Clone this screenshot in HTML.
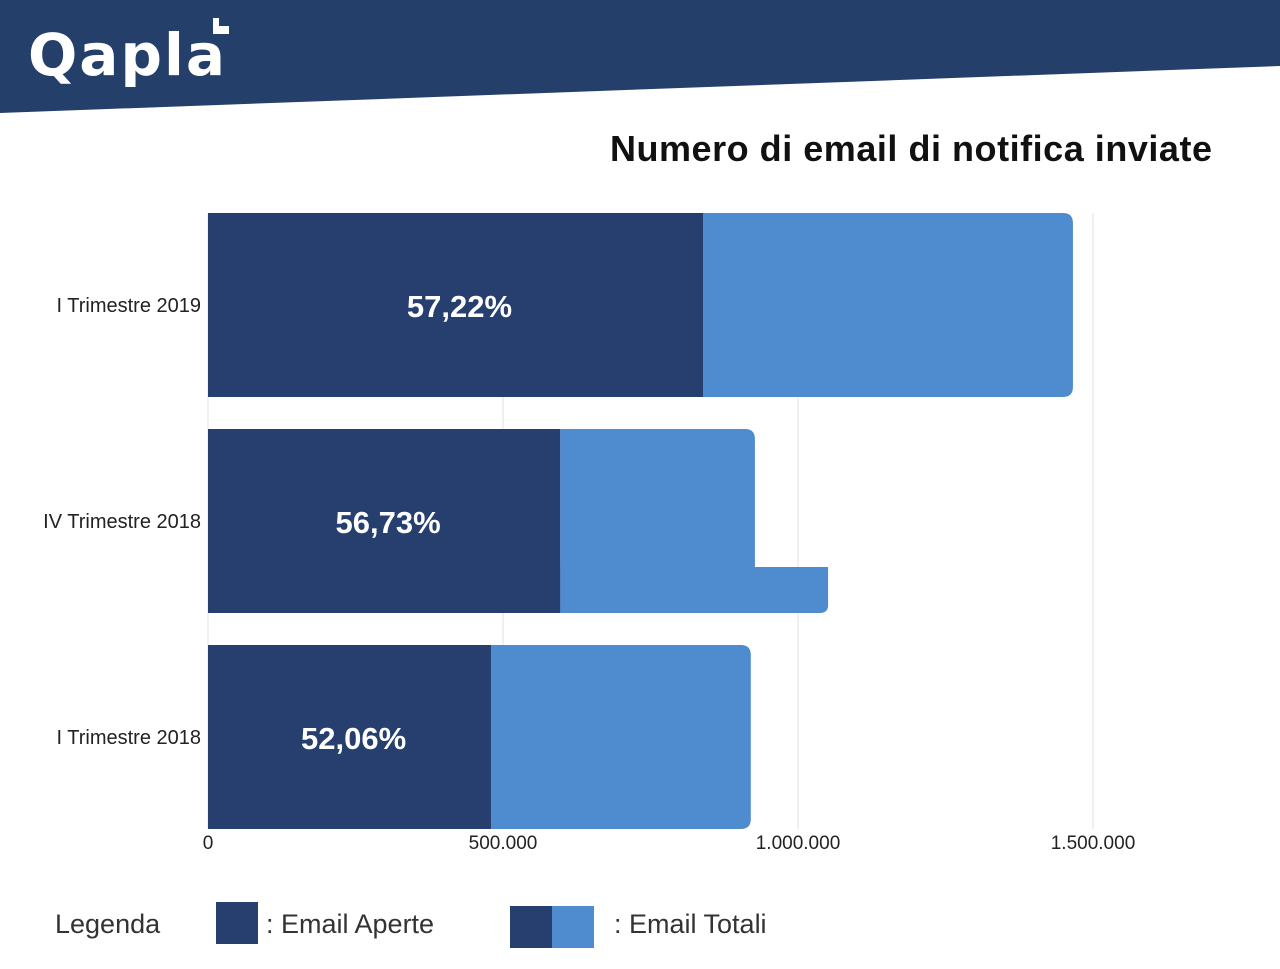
<!DOCTYPE html>
<html><head><meta charset="utf-8"><style>
body{margin:0;width:1280px;height:969px;background:#fff;overflow:hidden;font-family:"Liberation Sans",sans-serif}
svg{display:block}
</style></head><body>
<svg width="1280" height="969">
<polygon points="0,0 1280,0 1280,66 0,113" fill="#253f6b"/>
<text x="28" y="75" fill="#fff" font-size="58" font-weight="bold" font-family="DejaVu Sans, sans-serif" letter-spacing="2">Qapla</text>
<path d="M213,18 h6 v8 h10 v8 h-16z" fill="#fff"/>
<text x="1212" y="161" text-anchor="end" font-size="36" font-weight="bold" fill="#111" textLength="602" lengthAdjust="spacing">Numero di email di notifica inviate</text>
<g id="grid"></g><g id="bars"></g><g id="labels"></g>
<text x="55" y="933" font-size="27" fill="#333">Legenda</text>
<rect x="216" y="902" width="42" height="42" fill="#263f6e"/>
<text x="266" y="933" font-size="27" fill="#333">: Email Aperte</text>
<rect x="510" y="906" width="42" height="42" fill="#263f6e"/>
<rect x="552" y="906" width="42" height="42" fill="#4f8bcf"/>
<text x="614" y="933" font-size="27" fill="#333">: Email Totali</text>
</svg>
<script>
const categories=["I Trimestre 2019","IV Trimestre 2018","I Trimestre 2018"];
const opened=[839000,597000,480000];
const totals=[1466000,927000,920000];
const extension=[0,1051000,0];
const percentLabels=["57,22%","56,73%","52,06%"];
const ticks=[0,500000,1000000,1500000];
const tickLabels=["0","500.000","1.000.000","1.500.000"];
const NS="http://www.w3.org/2000/svg";
const x=v=>208+v*295/500000;
const rowTop=i=>213+i*216, rowH=184;
function mk(t,a,p){const e=document.createElementNS(NS,t);for(const k in a)e.setAttribute(k,a[k]);document.getElementById(p).appendChild(e);return e;}
ticks.forEach((t,i)=>{
 const l=mk('line',{x1:x(t),x2:x(t),y1:213,y2:829,stroke:'#e0e0e0','stroke-width':1},'grid');
 
 
 const tx=mk('text',{x:x(t),y:849,'text-anchor':'middle','font-size':19,fill:'#222'},'labels');
 tx.textContent=tickLabels[i];
 
 
});
categories.forEach((c,i)=>{
 const y=rowTop(i), x0=x(0), xd=x(opened[i]), xt=x(totals[i]);
 const r=10;
 if(extension[i]>0){
  const xe=x(extension[i]), ey=y+138, eh=rowH-138;
  const ex=mk('path',{d:`M${xd},${ey} H${xe} V${y+rowH-8} Q${xe},${y+rowH} ${xe-8},${y+rowH} H${xd}Z`,fill:'#4f8bcf'},'bars');
  
  
 }
 const lt=mk('path',{d:`M${xd},${y} H${xt-r} Q${xt},${y} ${xt},${y+r} V${y+rowH-r} Q${xt},${y+rowH} ${xt-r},${y+rowH} H${xd}Z`,fill:'#4f8bcf'},'bars');
 
 
 const dk=mk('rect',{x:x0,y:y,width:xd-x0,height:rowH,fill:'#263f6e'},'bars');
 
 
 const pl=mk('text',{x:(x0+xd)/2+4,y:y+rowH/2+12,'text-anchor':'middle','font-size':31,'font-weight':'bold',fill:'#fff'},'labels');
 pl.textContent=percentLabels[i];
 
 
 const cl=mk('text',{x:201,y:y+rowH/2+7,'text-anchor':'end','font-size':20,fill:'#222'},'labels');
 cl.textContent=c;
 
 
});
</script>
</body></html>
